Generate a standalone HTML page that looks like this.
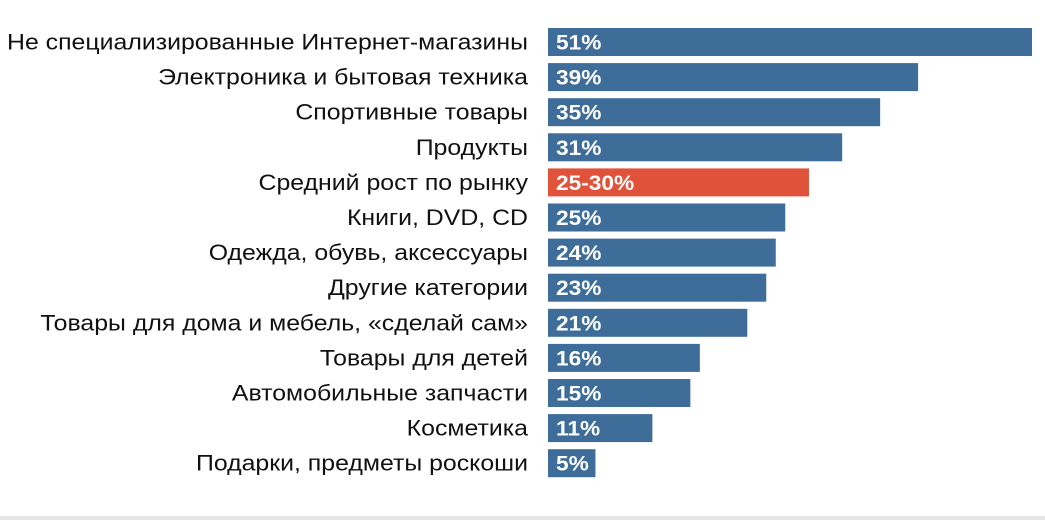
<!DOCTYPE html>
<html><head><meta charset="utf-8"><style>
body{margin:0;background:#fff;width:1045px;height:520px;overflow:hidden;font-family:"Liberation Sans","DejaVu Sans",sans-serif}
</style></head><body>
<svg id="chart" width="1045" height="520">
<rect x="0" y="516" width="1045" height="4" fill="#e6e6e6"/>
</svg>
<script>
const categories=["Не специализированные Интернет-магазины","Электроника и бытовая техника","Спортивные товары","Продукты","Средний рост по рынку","Книги, DVD, CD","Одежда, обувь, аксессуары","Другие категории","Товары для дома и мебель, «сделай сам»","Товары для детей","Автомобильные запчасти","Косметика","Подарки, предметы роскоши"];
const values=[51,39,35,31,27.5,25,24,23,21,16,15,11,5];
const valueLabels=["51%","39%","35%","31%","25-30%","25%","24%","23%","21%","16%","15%","11%","5%"];
const highlight=[false,false,false,false,true,false,false,false,false,false,false,false,false];
const svg=document.getElementById('chart');
const NS='http://www.w3.org/2000/svg';
const x0=548, pxPer=9.49;
const xScale=v=>v*pxPer;
const yScale=i=>28+i*35.1;
const barH=28;
categories.forEach((c,i)=>{
  const y=yScale(i);
  const t=document.createElementNS(NS,'text');
  t.setAttribute('x',0);t.setAttribute('y',0);
  t.setAttribute('transform','translate(528,'+(y+barH/2+7.5)+') scale(1.13,1)');
  t.setAttribute('text-anchor','end');t.setAttribute('font-size','22');t.setAttribute('fill','#111');
  t.textContent=c;
  
  
  svg.appendChild(t);
  const r=document.createElementNS(NS,'rect');
  r.setAttribute('x',x0);r.setAttribute('y',y);r.setAttribute('width',xScale(values[i]));r.setAttribute('height',barH);
  r.setAttribute('fill',highlight[i]?'#e0533a':'#3d6d98');
  
  
  svg.appendChild(r);
  const v=document.createElementNS(NS,'text');
  v.setAttribute('x',0);v.setAttribute('y',0);
  v.setAttribute('transform','translate('+(x0+8)+','+(y+barH/2+7.5)+') scale(1.08,1)');
  v.setAttribute('font-size','21');v.setAttribute('font-weight','bold');v.setAttribute('fill','#fff');
  v.textContent=valueLabels[i];
  
  
  svg.appendChild(v);
});
</script>
</body></html>
